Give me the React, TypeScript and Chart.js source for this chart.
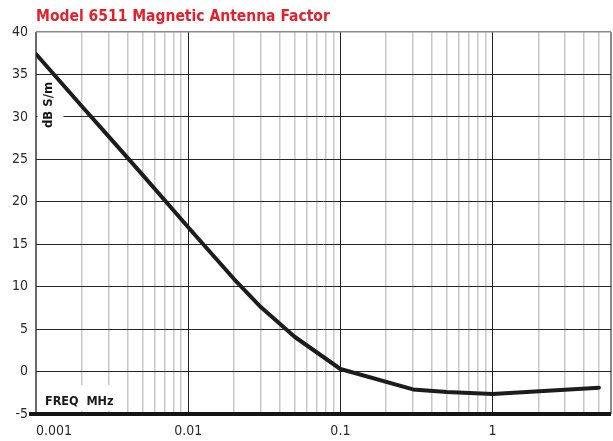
import React, { useEffect, useRef } from "react";
import { Chart, registerables } from "chart.js";

Chart.register(...registerables);

const titleText = "Model 6511 Magnetic Antenna Factor";
const yAxisLabel = "dB S/m";
const xAxisLabel = "FREQ  MHz";

const freqMHz = [0.001, 0.002, 0.003, 0.005, 0.01, 0.02, 0.03, 0.05, 0.1, 0.3, 0.5, 1, 5];
const factorDbSm = [37.4, 31.25, 27.7, 23.2, 17.0, 10.9, 7.6, 4.1, 0.3, -2.1, -2.4, -2.65, -1.9];

const xGridValues = [
  0.001, 0.002, 0.003, 0.004, 0.005, 0.006, 0.007, 0.008, 0.009,
  0.01, 0.02, 0.03, 0.04, 0.05, 0.06, 0.07, 0.08, 0.09,
  0.1, 0.2, 0.3, 0.4, 0.5, 0.6, 0.7, 0.8, 0.9,
  1, 2, 3, 4, 5, 6,
];
const xTickLabels = ["0.001", "0.01", "0.1", "1"];
const yMin = -5;
const yMax = 40;
const yStep = 5;

const FONT = "'Liberation Sans Narrow', 'DejaVu Sans Condensed', 'Liberation Sans', sans-serif";

const isDecade = (v: number) => Math.abs(Math.log10(v) - Math.round(Math.log10(v))) < 1e-6;

const annotationPlugin = {
  id: "annotations",
  beforeDatasetsDraw(chart: any) {
    const { ctx, chartArea } = chart;
    ctx.save();
    ctx.fillStyle = "#ffffff";
    ctx.fillRect(chartArea.left + 1.5, chartArea.top + 46, 26, 52);
    ctx.fillRect(chartArea.left + 1.5, chartArea.bottom - 29, 80, 26);
    ctx.fillStyle = "#1a1a1a";
    ctx.font = `bold 12.5px ${FONT}`;
    ctx.textBaseline = "middle";
    ctx.textAlign = "left";
    ctx.fillText(xAxisLabel, chartArea.left + 9, chartArea.bottom - 12.5);
    ctx.font = `bold 13px ${FONT}`;
    ctx.translate(chartArea.left + 13, chartArea.top + 73);
    ctx.rotate(-Math.PI / 2);
    ctx.textAlign = "center";
    ctx.fillText(yAxisLabel, 0, 0);
    ctx.restore();
  },
  afterLayout(chart: any) {
    if (chart.titleBlock) {
      const shift = chart.chartArea.left;
      chart.titleBlock.left = shift;
      chart.titleBlock.right = chart.chartArea.right;
      chart.titleBlock.width = chart.chartArea.right - shift;
    }
  },
};

export default function App() {
  const canvasRef = useRef<HTMLCanvasElement | null>(null);

  useEffect(() => {
    if (!canvasRef.current) return;
    const chart = new Chart(canvasRef.current, {
      type: "line",
      data: {
        labels: freqMHz,
        datasets: [
          {
            data: freqMHz.map((f, i) => ({ x: f, y: factorDbSm[i] })),
            borderColor: "#1c1c1c",
            borderWidth: 4,
            pointRadius: 0,
            tension: 0,
            borderJoinStyle: "round",
            borderCapStyle: "round",
            fill: false,
          },
        ],
      },
      plugins: [annotationPlugin],
      options: {
        responsive: false,
        animation: false,
        layout: { padding: { left: 0, right: 2, top: 0, bottom: 0 } },
        plugins: {
          legend: { display: false },
          tooltip: { enabled: false },
          title: {
            display: true,
            text: titleText,
            align: "start",
            color: "#e5202a",
            font: { family: FONT, size: 15.5, weight: "bold", lineHeight: 1.2 },
            padding: { top: 8, bottom: 5.4 },
          },
        },
        scales: {
          x: {
            type: "logarithmic",
            min: 0.001,
            max: 6,
            afterBuildTicks: (scale: any) => {
              scale.ticks = xGridValues.map((v) => ({ value: v }));
            },
            afterFit: (scale: any) => {
              scale.height = 27;
            },
            border: { display: false },
            grid: {
              drawTicks: true,
              tickLength: 9,
              tickColor: "rgba(0,0,0,0)",
              color: (ctx: any) => {
                const v = ctx.tick ? ctx.tick.value : 0;
                if (v === 0.001) return "#6a6a6a";
                if (v === 6) return "#8a8a8a";
                if (isDecade(v)) return "#1e1e1e";
                return "#c8c8c8";
              },
              lineWidth: (ctx: any) => {
                const v = ctx.tick ? ctx.tick.value : 0;
                if (v === 0.001 || v === 6) return 2;
                if (isDecade(v)) return 1;
                return 1.5;
              },
            },
            ticks: {
              autoSkip: false,
              maxRotation: 0,
              align: "inner",
              padding: 0,
              color: "#2a2a2a",
              font: { family: FONT, size: 14 },
              callback: (value: any) => {
                const s = String(Number(value));
                return xTickLabels.includes(s) ? s : "";
              },
            },
          },
          y: {
            min: yMin,
            max: yMax,
            afterFit: (scale: any) => {
              scale.width = 36;
            },
            border: { display: false },
            grid: {
              drawTicks: true,
              tickLength: 7,
              color: (ctx: any) => {
                const v = ctx.tick ? ctx.tick.value : 0;
                if (v === yMax) return "#8a8a8a";
                if (v === yMin) return "#151515";
                return "#262626";
              },
              lineWidth: (ctx: any) => {
                const v = ctx.tick ? ctx.tick.value : 0;
                if (v === yMin) return 4;
                if (v === yMax) return 1.5;
                return 1;
              },
              tickColor: (ctx: any) => {
                const v = ctx.tick ? ctx.tick.value : 0;
                return v === yMin ? "#151515" : "rgba(0,0,0,0)";
              },
              tickWidth: (ctx: any) => {
                const v = ctx.tick ? ctx.tick.value : 0;
                return v === yMin ? 4 : 1;
              },
            },
            ticks: {
              stepSize: yStep,
              padding: 1,
              color: "#2a2a2a",
              font: { family: FONT, size: 14 },
            },
          },
        },
      },
    } as any);
    return () => chart.destroy();
  }, []);

  return (
    <div style={{ position: "fixed", left: 0, top: 0, width: 613, height: 441, background: "#fff" }}>
      <canvas ref={canvasRef} width={613} height={441} />
    </div>
  );
}
